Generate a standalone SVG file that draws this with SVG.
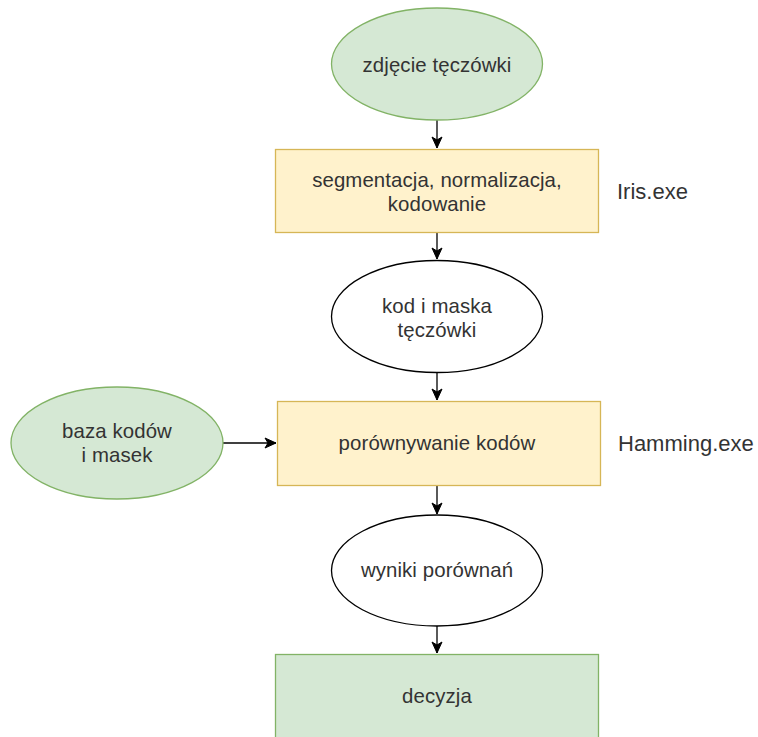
<svg xmlns="http://www.w3.org/2000/svg" width="758" height="737" viewBox="0 0 758 737">
<defs>
<style>
.green{fill:#d5e8d4;stroke:#82b366;stroke-width:1.3}
.yellow{fill:#fff2cc;stroke:#d6b656;stroke-width:1.3}
.white{fill:#ffffff;stroke:#000000;stroke-width:1.3}
.t{font-family:"Liberation Sans",Arial,sans-serif;font-size:20.4px;letter-spacing:0.1px;fill:#333333;text-anchor:middle}
.lbl{font-family:"Liberation Sans",Arial,sans-serif;font-size:22px;fill:#333333}
.edge{fill:none;stroke:#000000;stroke-width:1.3}
</style>
<marker id="arr" markerUnits="userSpaceOnUse" markerWidth="14" markerHeight="14" viewBox="0 0 14 14" refX="12" refY="7" orient="auto">
<path d="M1,2 L12,7 L1,12 L4,7 Z" fill="#000000" stroke="#000000" stroke-width="1"/>
</marker>
</defs>
<rect width="758" height="737" fill="#ffffff"/>
<g id="connectors">
<line class="edge" x1="437" y1="120" x2="437" y2="148" marker-end="url(#arr)"/>
<line class="edge" x1="437" y1="232" x2="437" y2="259" marker-end="url(#arr)"/>
<line class="edge" x1="437" y1="373" x2="437" y2="400" marker-end="url(#arr)"/>
<line class="edge" x1="437" y1="485" x2="437" y2="514" marker-end="url(#arr)"/>
<line class="edge" x1="437" y1="626" x2="437" y2="653" marker-end="url(#arr)"/>
<line class="edge" x1="223" y1="443" x2="276" y2="443" marker-end="url(#arr)"/>
</g>
<g id="node-zdjecie">
<ellipse class="green" cx="437" cy="64" rx="105.5" ry="56"/>
<text class="t" x="437" y="72">zdjęcie tęczówki</text>
</g>
<g id="node-segmentacja">
<rect class="yellow" x="275.5" y="149.5" width="323" height="83"/>
<text class="t" x="437" y="187">segmentacja, normalizacja,</text>
<text class="t" x="437" y="211">kodowanie</text>
</g>
<g id="label-iris">
<text class="lbl" x="617" y="199">Iris.exe</text>
</g>
<g id="node-kod">
<ellipse class="white" cx="437" cy="316.5" rx="105.5" ry="56"/>
<text class="t" x="437" y="313">kod i maska</text>
<text class="t" x="437" y="337">tęczówki</text>
</g>
<g id="node-baza">
<ellipse class="green" cx="117" cy="443" rx="106" ry="56"/>
<text class="t" x="117" y="438">baza kodów</text>
<text class="t" x="117" y="462">i masek</text>
</g>
<g id="node-porownywanie">
<rect class="yellow" x="277.5" y="401.5" width="323" height="84"/>
<text class="t" x="437" y="450">porównywanie kodów</text>
</g>
<g id="label-hamming">
<text class="lbl" x="618" y="451">Hamming.exe</text>
</g>
<g id="node-wyniki">
<ellipse class="white" cx="437" cy="570.5" rx="105.5" ry="55.5"/>
<text class="t" x="437" y="577">wyniki porównań</text>
</g>
<g id="node-decyzja">
<rect class="green" x="275.5" y="654.5" width="323" height="100"/>
<text class="t" x="437" y="703">decyzja</text>
</g>
</svg>
